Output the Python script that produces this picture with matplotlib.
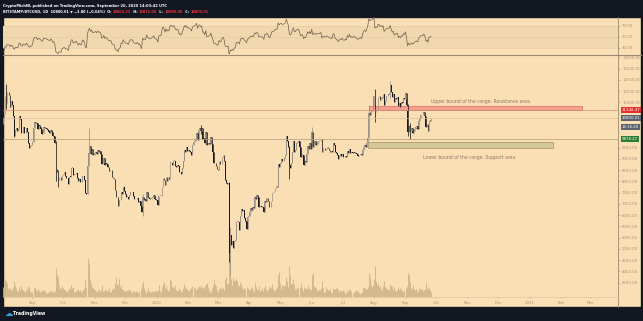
import numpy as np
import pandas as pd
import matplotlib
matplotlib.use('Agg')
import matplotlib.pyplot as plt
import matplotlib.dates as mdates
from matplotlib.patches import Rectangle
from matplotlib.transforms import blended_transform_factory

# --- data: BTC/USD daily closes (Bitstamp), from 2019-07-15 ---
start_date = '2019-07-15'
closes = [
    # Jul 15-31 2019
    10850, 9450, 9680, 10650, 10530, 10760, 10590, 10320, 9850, 9780, 9880, 9850, 9480, 9530, 9500, 9590, 10090,
    # Aug 2019
    10400, 10530, 10820, 10970, 11800, 11460, 11980, 11970, 11850, 11300,
    11550, 11380, 10880, 10030, 10300, 10350, 10220, 10320, 10920, 10760,
    10130, 10130, 10400, 10140, 10140, 10370, 10190, 9720, 9480, 9580, 9600,
    # Sep 2019
    9760, 10380, 10620, 10580, 10580, 10320, 10480, 10410, 10320, 10100,
    10150, 10410, 10360, 10360, 10310, 10260, 10190, 10160, 10270, 10180,
    9990, 10030, 9700, 8530, 8430, 8060, 8200, 8200, 8040, 8300,
    # Oct 2019
    8330, 8390, 8230, 8150, 8130, 7870, 8210, 8200, 8590, 8590,
    8270, 8340, 8310, 8380, 8160, 8000, 8090, 7960, 7950, 8230,
    8220, 8040, 7470, 7450, 8670, 9260, 9550, 9230, 9430, 9180, 9150,
    # Nov 2019
    9250, 9310, 9200, 9410, 9310, 9350, 9210, 8770, 8810, 9040,
    8730, 8820, 8780, 8640, 8470, 8500, 8500, 8180, 8130, 8100,
    7620, 7290, 7320, 6910, 7150, 7170, 7520, 7440, 7760, 7560,
    # Dec 2019
    7420, 7320, 7320, 7200, 7400, 7540, 7510, 7520, 7340, 7220,
    7200, 7190, 7250, 7070, 7110, 6880, 6620, 7280, 7150, 7190,
    7140, 7510, 7320, 7250, 7200, 7200, 7250, 7310, 7390, 7220, 7170,
    # Jan 2020
    7180, 6950, 7340, 7350, 7350, 7760, 8150, 8050, 7820, 8190,
    8020, 8180, 8110, 8810, 8820, 8720, 8900, 8910, 8700, 8630,
    8740, 8660, 8390, 8430, 8340, 8600, 8900, 9390, 9290, 9510, 9350,
    # Feb 2020
    9390, 9340, 9290, 9180, 9610, 9750, 9800, 9900, 10160, 9850,
    10270, 10350, 10240, 10360, 9900, 9930, 9700, 10180, 9600, 9610,
    9690, 9670, 9970, 9660, 9310, 8790, 8790, 8690, 8530,
    # Mar 2020
    8520, 8910, 8760, 8750, 9070, 9150, 8900, 8040, 7930, 7900,
    7940, 4830, 5620, 5170, 5360, 5030, 5330, 5410, 6190, 6190,
    6190, 5830, 6470, 6750, 6680, 6740, 6370, 6250, 5880, 6410, 6440,
    # Apr 2020
    6640, 6800, 6740, 6860, 6790, 7290, 7200, 7370, 7300, 6870,
    6890, 6910, 6860, 6850, 6630, 7110, 7100, 7260, 7130, 6850,
    6870, 7130, 7480, 7510, 7550, 7700, 7790, 7760, 8780, 8620,
    # May 2020
    8830, 8970, 8900, 8890, 9030, 9150, 9990, 9810, 9540, 8720,
    8570, 8820, 9320, 9790, 9310, 9380, 9680, 9730, 9780, 9510,
    9060, 9170, 9180, 8720, 8900, 8840, 9200, 9580, 9430, 9700, 9450,
    # Jun 2020
    10200, 9520, 9660, 9800, 9620, 9670, 9750, 9780, 9780, 9880,
    9280, 9470, 9480, 9390, 9450, 9530, 9460, 9380, 9300, 9360,
    9290, 9690, 9630, 9290, 9250, 9160, 9010, 9120, 9190, 9140,
    # Jul 2020
    9230, 9090, 9060, 9140, 9080, 9340, 9250, 9440, 9240, 9290,
    9240, 9300, 9240, 9260, 9190, 9130, 9150, 9180, 9210, 9160,
    9390, 9540, 9600, 9540, 9700, 9940, 11040, 10930, 11100, 11110, 11350,
    # Aug 2020
    11800, 11070, 11230, 11190, 11740, 11770, 11600, 11760, 11680, 11880,
    11400, 11580, 11780, 11770, 11860, 11900, 12290, 11950, 11760, 11870,
    11520, 11680, 11650, 11750, 11330, 11460, 11320, 11530, 11480, 11710, 11660,
    # Sep 1-26 2020
    11930, 11390, 10170, 10470, 10170, 10250, 10370, 10130, 10230, 10340,
    10390, 10440, 10330, 10680, 10790, 10950, 10940, 10930, 11080, 10920,
    10420, 10530, 10240, 10740, 10690, 10800,
]

# daily volume, thousand BTC (rough)
volumes = [
    14, 18, 15, 14, 10, 8, 7, 9, 11, 10, 8, 7, 9, 7, 6, 7, 10,
    9, 12, 10, 8, 18, 16, 14, 9, 8, 9, 7, 8, 10, 16, 12, 9, 6, 6, 10, 7, 11, 8, 7, 6, 5, 8, 7, 11, 10, 6, 5,
    5, 9, 10, 7, 6, 8, 6, 5, 6, 7, 6, 7, 6, 4, 4, 5, 5, 6, 7, 5, 6, 5, 6, 30, 22, 20, 12, 8, 9, 11,
    9, 8, 7, 6, 5, 7, 9, 8, 12, 9, 10, 5, 5, 6, 7, 8, 6, 7, 5, 6, 7, 9, 18, 10, 40, 35, 18, 14, 10, 9, 8,
    7, 6, 5, 7, 8, 6, 7, 12, 6, 6, 8, 7, 6, 7, 9, 5, 5, 8, 9, 8, 14, 20, 12, 13, 18, 10, 12, 8, 8, 6,
    6, 7, 6, 7, 8, 7, 5, 5, 6, 6, 5, 6, 5, 5, 5, 8, 13, 16, 9, 6, 4, 6, 9, 6, 5, 5, 6, 5, 6, 6, 6,
    6, 7, 12, 6, 5, 10, 13, 15, 9, 11, 8, 6, 7, 18, 16, 10, 11, 9, 12, 7, 7, 6, 9, 8, 5, 6, 9, 13, 10, 9, 8,
    7, 6, 8, 9, 11, 10, 9, 7, 8, 10, 11, 10, 12, 9, 10, 9, 11, 13, 14, 10, 7, 5, 5, 9, 12, 18, 13, 11, 7,
    5, 9, 9, 8, 10, 9, 7, 18, 20, 13, 14, 40, 42, 18, 12, 20, 16, 17, 18, 16, 12, 11, 15, 13, 10, 8, 9, 8, 10, 9, 7,
    8, 9, 10, 7, 5, 14, 10, 8, 7, 11, 6, 7, 9, 6, 9, 12, 8, 6, 7, 11, 9, 10, 13, 8, 6, 7, 8, 10, 22, 26,
    14, 8, 12, 12, 11, 12, 20, 16, 10, 32, 22, 13, 14, 18, 13, 8, 8, 10, 9, 10, 14, 9, 6, 10, 9, 8, 9, 12, 8, 9, 7,
    22, 24, 11, 10, 9, 6, 7, 7, 7, 9, 16, 9, 5, 5, 10, 8, 7, 7, 8, 5, 4, 9, 8, 8, 9, 9, 8, 5, 7, 6,
    6, 7, 6, 4, 4, 7, 6, 8, 7, 6, 4, 4, 6, 7, 6, 6, 4, 3, 4, 5, 9, 10, 9, 8, 8, 10, 24, 20, 12, 10, 12,
    18, 32, 16, 12, 14, 10, 11, 8, 7, 11, 16, 10, 9, 8, 7, 8, 12, 12, 11, 7, 10, 7, 6, 7, 10, 8, 9, 8, 6, 5, 7,
    9, 11, 24, 22, 16, 9, 8, 12, 8, 7, 8, 5, 6, 9, 8, 8, 8, 6, 7, 8, 14, 8, 10, 9, 7, 5,
]

# notable intraday extremes (high, low)
wicks = {
    '2019-08-06': (12300, 11220), '2019-08-14': (10900, 9960), '2019-09-24': (9800, 8000),
    '2019-09-26': (8500, 7750), '2019-10-26': (10370, 9110), '2019-12-18': (7440, 6435),
    '2020-01-14': (8880, 8120), '2020-02-13': (10500, 10090), '2020-03-12': (7970, 4410),
    '2020-03-13': (5950, 3850), '2020-05-10': (9570, 8110), '2020-06-01': (10420, 9420),
    '2020-07-27': (11400, 9920), '2020-08-02': (12090, 10650), '2020-08-17': (12470, 11680),
    '2020-09-03': (11450, 10000), '2020-09-05': (10570, 9880),
}

month_ticks = pd.date_range('2019-09-01', '2021-03-01', freq='MS')
month_labels = ['Sep', 'Oct', 'Nov', 'Dec', '2020', 'Feb', 'Mar', 'Apr', 'May', 'Jun',
                'Jul', 'Aug', 'Sep', 'Oct', 'Nov', 'Dec', '2021', 'Feb', 'Mar']
price_ticks = [3500, 4000, 4500, 5000, 5500, 6000, 6500, 7000, 7500, 8000, 8500,
               9000, 9500, 11500, 12000, 12500, 13000, 13500]

resistance = (11150, 11350)   # price band
support = (9490, 9750)
red_level, last_price, green_level = 11150, 10800, 9880

header_1 = 'CryptoMichNL published on TradingView.com, September 26, 2020 14:03:42 UTC'
header_2 = [('BITSTAMP:BTCUSD, 1D  10800.01 \u25bc \u22123.80 (\u22120.04%)', 'white'),
            (' O:', 'white'), ('10804.23', '#e0333a'), (' H:', 'white'), ('10835.00', '#e0333a'),
            (' L:', 'white'), ('10680.00', '#e0333a'), (' C:', 'white'), ('10800.01', '#e0333a')]

BG = '#fadfb5'
BAND = '#f0d7ae'
DARK = '#131722'
AXTXT = '#a89478'

df = pd.DataFrame({'close': closes, 'volume': volumes},
                  index=pd.date_range(start_date, periods=len(closes), freq='D'))
df['open'] = df['close'].shift(1)
df['high'] = df[['open', 'close']].max(axis=1)
df['low'] = df[['open', 'close']].min(axis=1)
for d, (h, l) in wicks.items():
    df.loc[d, 'high'] = max(df.loc[d, 'high'], h)
    df.loc[d, 'low'] = min(df.loc[d, 'low'], l)

delta = df['close'].diff()
gain = delta.clip(lower=0).ewm(alpha=1 / 14, adjust=False).mean()
loss = (-delta.clip(upper=0)).ewm(alpha=1 / 14, adjust=False).mean()
df['rsi'] = 100 - 100 / (1 + gain / loss)
df = df.iloc[1:]

x = mdates.date2num(df.index)
xlim = (mdates.date2num(pd.Timestamp('2019-08-02 14:00')),
        mdates.date2num(pd.Timestamp('2021-03-28 12:00')))

W, H = 643, 321
def rect(x0, y0, x1, y1):
    return [x0 / W, 1 - y1 / H, (x1 - x0) / W, (y1 - y0) / H]

fig = plt.figure(figsize=(W / 100, H / 100), dpi=100, facecolor=BG)
renderer = fig.canvas.get_renderer()

# chrome
frame = fig.add_axes([0, 0, 1, 1])
frame.set_xlim(0, W)
frame.set_ylim(H, 0)
frame.axis('off')
frame.add_patch(Rectangle((0, 0), W, 16.5, color=DARK))
frame.add_patch(Rectangle((0, 306.5), W, H - 306.5, color=DARK))
frame.add_patch(Rectangle((0, 0), 2.5, H, color=DARK))
frame.add_patch(Rectangle((640.5, 0), 3, H, color=DARK))
frame.plot([618, 618], [16.5, 306.5], color='#9c8a70', lw=0.6)
frame.plot([2.5, 640.5], [54.5, 54.5], color='#9c8a70', lw=0.8)
frame.plot([2.5, 618], [297, 297], color='#e0c79f', lw=0.5)

frame.text(3, 5.5, header_1, color='white', fontsize=2.65, va='center', fontweight='bold')
hx = 3
for s, col in header_2:
    t = frame.text(hx, 12, s, color=col, fontsize=2.5, va='center', fontweight='bold')
    bb = t.get_window_extent(renderer)
    hx += bb.width + 1.2
frame.text(5, 313.5, '\u2601', color='#2ea7e0', fontsize=6, va='center')
frame.text(13, 313.5, 'TradingView', color='white', fontsize=3.3, va='center', fontweight='bold')

# volume (behind candles)
ax_v = fig.add_axes(rect(2.5, 55, 618, 297))
ax_v.vlines(x, 0, df['volume'], color='#ccb285', lw=0.6)
ax_v.set_xlim(xlim)
ax_v.set_ylim(0, df['volume'].max() / 0.17)
ax_v.axis('off')

# price
ax = fig.add_axes(rect(2.5, 55, 618, 297))
ax.patch.set_visible(False)
up = df['close'] >= df['open']
for mask, col in [(up, '#9a9286'), (~up, '#1a1a1a')]:
    d = df[mask]
    xm = mdates.date2num(d.index)
    ax.vlines(xm, d['low'], d['high'], color=col, lw=0.55)
    body_lo = d[['open', 'close']].min(axis=1)
    body_h = (d['close'] - d['open']).abs().clip(lower=25)
    ax.bar(xm, body_h, bottom=body_lo, width=0.8, color=col, linewidth=0)

ax.axhline(red_level, color='#d98a78', lw=0.5)
ax.axhline(last_price, color='#d8bfa0', lw=0.5)
ax.axhline(green_level, color='#b59b7c', lw=0.5)

x_box0 = mdates.date2num(pd.Timestamp('2020-07-27'))
ax.add_patch(Rectangle((x_box0, resistance[0]),
                       mdates.date2num(pd.Timestamp('2021-02-21')) - x_box0,
                       resistance[1] - resistance[0],
                       facecolor='#f3a28e', edgecolor='#e0685a', lw=0.5))
ax.add_patch(Rectangle((x_box0 - 1, support[0]),
                       mdates.date2num(pd.Timestamp('2021-01-24')) - x_box0 + 1,
                       support[1] - support[0],
                       facecolor='#d4c996', edgecolor='#a49560', lw=0.5))
ax.text(mdates.date2num(pd.Timestamp('2020-11-14')), 11560,
        'Upper bound of the range. Resistance area.', fontsize=3.3, color='#8c7b66',
        ha='center', va='center')
ax.text(mdates.date2num(pd.Timestamp('2020-11-03')), 9040,
        'Lower bound of the range. Support area.', fontsize=3.3, color='#8c7b66',
        ha='center', va='center')

ax.set_xlim(xlim)
ax.set_ylim(2856, 13611)
ax.yaxis.tick_right()
ax.set_yticks(price_ticks)
ax.set_yticklabels([f'{v:.2f}' for v in price_ticks])
ax.set_xticks(mdates.date2num(month_ticks))
ax.set_xticklabels(month_labels)
ax.tick_params(axis='y', length=1.5, width=0.4, pad=1.5, labelsize=2.8, colors=AXTXT)
ax.tick_params(axis='x', length=1, width=0.4, pad=1.8, labelsize=2.8, colors=AXTXT)
for s in ax.spines.values():
    s.set_visible(False)

tr = blended_transform_factory(ax.transAxes, ax.transData)
for val, txt, fc in [(red_level, '11148.47', '#e0332f'), (last_price, '10800.01', '#5c6270'),
                     (last_price - 380, '16:16:20', '#5c6270'), (green_level, '9878.47', '#2f7d32')]:
    ax.text(1.006, val, txt, transform=tr, fontsize=2.8, color='white', va='center', ha='left',
            bbox=dict(boxstyle='square,pad=0.25', fc=fc, ec='none'))

# RSI
ax_r = fig.add_axes(rect(2.5, 17, 618, 54))
ax_r.patch.set_visible(False)
ax_r.axhspan(30, 70, color=BAND, lw=0)
for lvl in (70, 50, 30):
    ax_r.axhline(lvl, color='#e2c9a2', lw=0.4)
ax_r.plot(x, df['rsi'], color='#6e5f4c', lw=0.5)
ax_r.set_xlim(xlim)
ax_r.set_ylim(18.5, 86)
ax_r.set_xticks([])
ax_r.yaxis.tick_right()
ax_r.set_yticks([30, 50, 70])
ax_r.set_yticklabels(['30.00', '50.00', '70.00'])
ax_r.tick_params(axis='y', length=1.5, width=0.4, pad=1.5, labelsize=2.8, colors=AXTXT)
for s in ax_r.spines.values():
    s.set_visible(False)

fig.savefig('out.png', dpi=100, facecolor=BG)
